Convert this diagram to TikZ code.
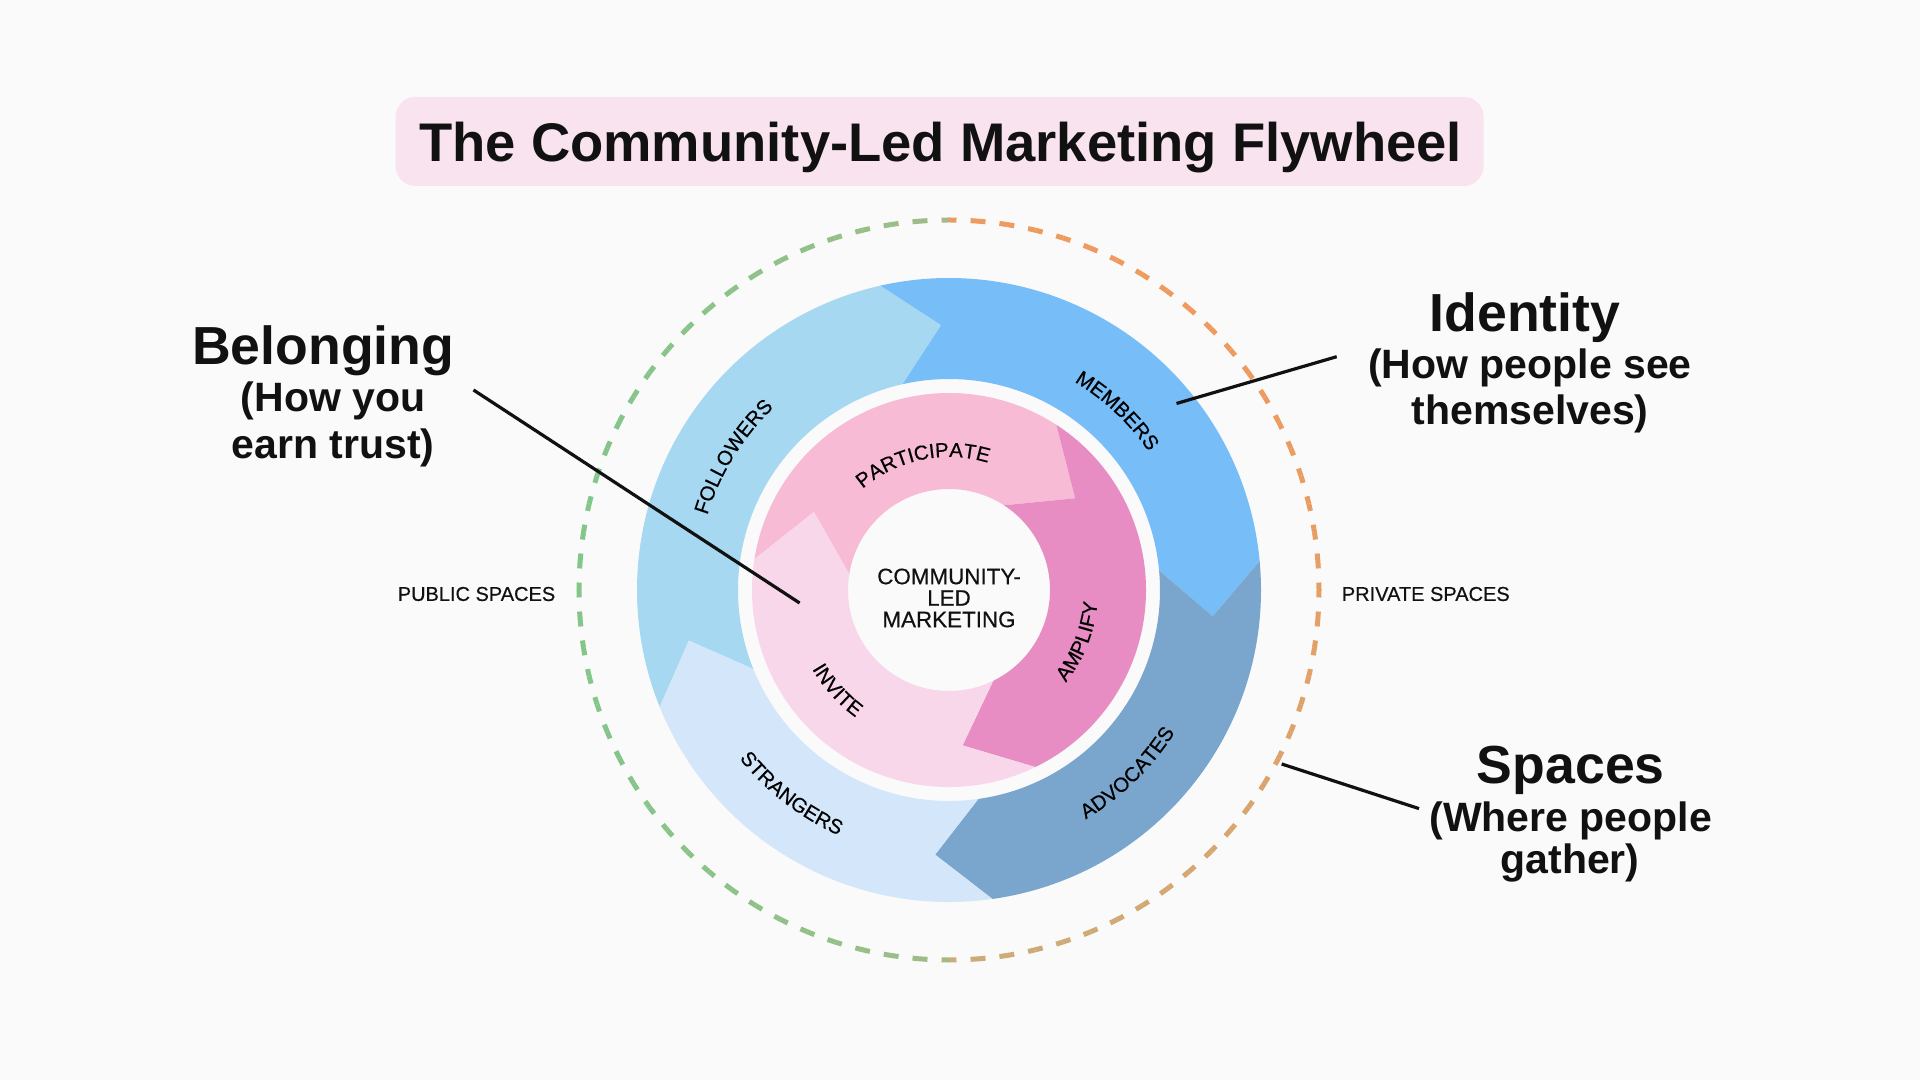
\documentclass[tikz,border=0pt]{standalone}
\usepackage{fontspec}
\setmainfont{Liberation Sans}
\newfontfamily\medfam{Liberation Sans}[FakeBold=0.45]
\usetikzlibrary{decorations.text}
\definecolor{bg}{HTML}{FAFAFA}
\definecolor{titlebg}{HTML}{F8E3EF}
\definecolor{cFollow}{HTML}{A6D8F1}
\definecolor{cMember}{HTML}{77BDF8}
\definecolor{cAdvoc}{HTML}{7AA6CD}
\definecolor{cStrange}{HTML}{D3E6FA}
\definecolor{cPart}{HTML}{F8BBD5}
\definecolor{cAmp}{HTML}{E78DC3}
\definecolor{cInv}{HTML}{F8D7EA}
\definecolor{dGreen}{HTML}{84C68A}
\definecolor{dOlive}{HTML}{A9B886}
\definecolor{dOrange}{HTML}{EF9A5E}
\definecolor{dTan}{HTML}{C8AE7A}
\definecolor{ink}{HTML}{111111}
\newcommand{\lblfont}{\medfam\fontsize{10.2}{12}\selectfont}
\tikzset{
  ringtext/.style={decorate, decoration={text along path, text align=center, text={#1}}},
  leader/.style={draw=ink, line width=1.6pt},
  headfont/.style={font=\fontsize{26.8}{30}\selectfont\bfseries, text=ink, inner sep=0pt, anchor=base},
  subfont/.style={font=\fontsize{20.5}{24}\selectfont\bfseries, text=ink, inner sep=0pt, anchor=base},
  spacefont/.style={font=\medfam\fontsize{10}{12}\selectfont, text=ink},
}
\begin{document}
\begin{tikzpicture}[x=0.5pt,y=0.5pt,line join=miter]
\fill[bg] (-949,-490) rectangle (971,590);
\useasboundingbox (-949,-490) rectangle (971,590);

% ---- outer ring (R=312, r=211, tip r=265, offset 11 deg)
\fill[cFollow] (202:312) arc[start angle=202,end angle=102.7,radius=312] -- (91.7:265) -- (102.7:211) arc[start angle=102.7,end angle=202,radius=211] -- (191:265) -- cycle;
\fill[cMember] (102.7:312) arc[start angle=102.7,end angle=5.3,radius=312] -- (-5.7:265) -- (5.3:211) arc[start angle=5.3,end angle=102.7,radius=211] -- (91.7:265) -- cycle;
\fill[cAdvoc] (5.3:312) arc[start angle=5.3,end angle=-82,radius=312] -- (-93:265) -- (-82:211) arc[start angle=-82,end angle=5.3,radius=211] -- (-5.7:265) -- cycle;
\fill[cStrange] (-82:312) arc[start angle=-82,end angle=-158,radius=312] -- (-169:265) -- (-158:211) arc[start angle=-158,end angle=-82,radius=211] -- (-93:265) -- cycle;

% ---- inner ring (R=197, r=101, tip r=156, offset 21 deg)
\fill[cPart] (171:197) arc[start angle=171,end angle=57,radius=197] -- (36:156) -- (57:101) arc[start angle=57,end angle=171,radius=101] -- (150:156) -- cycle;
\fill[cAmp] (57:197) arc[start angle=57,end angle=-64,radius=197] -- (-85:156) -- (-64:101) arc[start angle=-64,end angle=57,radius=101] -- (36:156) -- cycle;
\fill[cInv] (-64:197) arc[start angle=-64,end angle=-189,radius=197] -- (-210:156) -- (-189:101) arc[start angle=-189,end angle=-64,radius=101] -- (-85:156) -- cycle;

% ---- ring labels
\path[ringtext={|\lblfont|FOLLOWERS}] (173.3:253) arc[start angle=173.3,end angle=123.3,radius=253];
\path[ringtext={|\lblfont|MEMBERS}] (71.8:243) arc[start angle=71.8,end angle=21.8,radius=243];
\path[ringtext={|\lblfont|ADVOCATES}] (-70.7:267) arc[start angle=-70.7,end angle=-20.7,radius=267];
\path[ringtext={|\lblfont|STRANGERS}] (207.3:269) arc[start angle=207.3,end angle=257.3,radius=269];
\path[ringtext={|\lblfont|PARTICIPATE}] (146.7:133) arc[start angle=146.7,end angle=56.7,radius=133];
\path[ringtext={|\lblfont|AMPLIFY}] (-61.6:149) arc[start angle=-61.6,end angle=18.4,radius=149];
\path[ringtext={|\lblfont|INVITE}] (186.9:158) arc[start angle=186.9,end angle=256.9,radius=158];

\node[align=center, font=\medfam\fontsize{11.2}{10.75}\selectfont, text=ink] (core) at (0,-8) {COMMUNITY-\\LED\\MARKETING};

% ---- dashed outer circle (per-dash colour)
\foreach \k in {0,...,79}{
  \foreach \h in {0,1}{
    \pgfmathsetmacro\sa{90+4.5*\k-1.16+1.16*\h}
    \pgfmathsetmacro\ea{\sa+1.16}
    \pgfmathsetmacro\md{\sa+0.58}
    \pgfmathsetmacro\cs{cos(\md)}
    \ifdim\cs pt<0pt
      \pgfmathtruncatemacro\p{100*sqrt(abs(\cs))}
      \colorlet{dc}{dGreen!\p!dOlive}
    \else
      \pgfmathtruncatemacro\p{50*(1+sin(\md+30))}
      \colorlet{dc}{dOrange!\p!dTan}
    \fi
    \draw[dc, line width=2.5pt] (\sa:370) arc[start angle=\sa,end angle=\ea,radius=370];
  }
}

% ---- title
\node[fill=titlebg, rounded corners=10pt, minimum width=544pt, minimum height=44.6pt, inner sep=0pt] (titlebox) at (-9.4,448.6) {};
\node[font=\fontsize{27.2}{30}\selectfont\bfseries, text=ink, anchor=base, inner sep=0pt] (title) at (-8.3,428.3) {The Community-Led Marketing Flywheel};

% ---- side labels
\node[spacefont] (pub) at (-472.5,-4) {PUBLIC SPACES};
\node[spacefont] (priv) at (476.8,-4) {PRIVATE SPACES};

% ---- headings
\node[headfont] (belong) at (-625.7,225) {Belonging};
\node[subfont] (belongA) at (-616,178.3) {(How you};
\node[subfont] (belongB) at (-615.7,131.7) {earn trust)};

\node[headfont] (ident) at (576,258.3) {Identity};
\node[subfont] (identA) at (581,211.7) {(How people see};
\node[subfont] (identB) at (581,165) {themselves)};

\node[headfont] (space) at (621.8,-193.3) {Spaces};
\node[subfont] (spaceA) at (621.8,-241.7) {(Where people};
\node[subfont] (spaceB) at (621,-283.3) {gather)};

% ---- leader lines
\coordinate (bl1) at (-475.5,200);
\coordinate (bl2) at (-149.4,-13);
\coordinate (id1) at (387.7,233.3);
\coordinate (id2) at (227.5,186.5);
\coordinate (sp1) at (470,-218.6);
\coordinate (sp2) at (332.7,-174);
\draw[leader] (bl1) -- (bl2);
\draw[leader] (id1) -- (id2);
\draw[leader] (sp1) -- (sp2);
\end{tikzpicture}
\end{document}
